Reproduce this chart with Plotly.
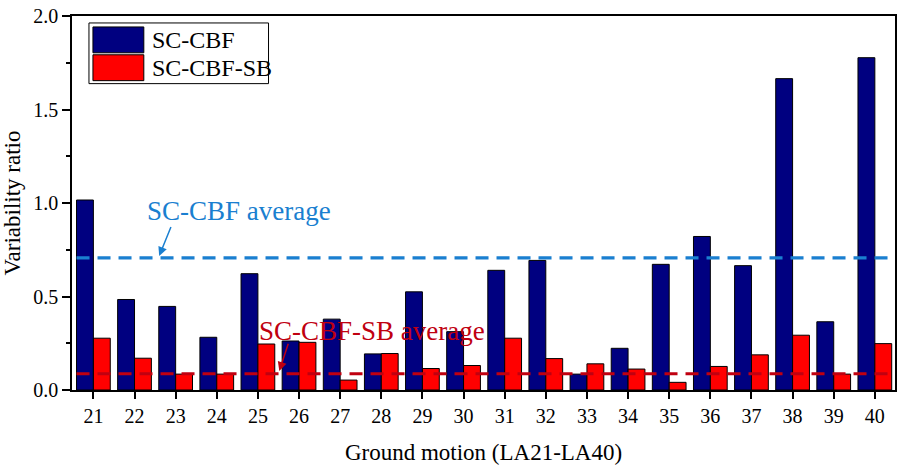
import plotly.graph_objects as go

# Ground motions LA21-LA40
motions = list(range(21, 41))
tick_labels = [str(m) for m in motions]

# Variability ratio per ground motion
sc_cbf = [1.016, 0.484, 0.447, 0.282, 0.622, 0.262, 0.379, 0.193, 0.525, 0.312,
          0.640, 0.693, 0.085, 0.223, 0.672, 0.821, 0.665, 1.665, 0.365, 1.777]
sc_cbf_sb = [0.277, 0.170, 0.085, 0.085, 0.246, 0.255, 0.053, 0.195, 0.115, 0.131,
             0.277, 0.168, 0.140, 0.112, 0.041, 0.126, 0.188, 0.293, 0.085, 0.248]

# Reported averages
sc_cbf_avg = 0.707
sc_cbf_sb_avg = 0.087

FONT = "Liberation Serif"
NAVY = "#000080"
RED = "#FF0000"
AVG_BLUE = "#1A7FD0"
AVG_RED = "#C00010"
BARGAP = 0.18
half_group = (1 - BARGAP) / 2

fig = go.Figure()
fig.add_trace(go.Bar(x=motions, y=sc_cbf, name="SC-CBF", marker_color=NAVY,
                     marker_line=dict(color="black", width=1), showlegend=False))
fig.add_trace(go.Bar(x=motions, y=sc_cbf_sb, name="SC-CBF-SB", marker_color=RED,
                     marker_line=dict(color="black", width=1), showlegend=False))

# Average lines spanning the bar groups
x_start = motions[0] - half_group
x_end = motions[-1] + half_group
for val, col in [(sc_cbf_avg, AVG_BLUE), (sc_cbf_sb_avg, AVG_RED)]:
    fig.add_shape(type="line", xref="x", yref="y", x0=x_start, x1=x_end, y0=val, y1=val,
                  line=dict(color=col, width=3.2, dash="13px,8px"), layer="above")

# Average labels with arrows
fig.add_annotation(x=24.53, y=0.957, xref="x", yref="y", text="SC-CBF average",
                   showarrow=False, font=dict(family=FONT, size=27, color=AVG_BLUE))
fig.add_annotation(x=22.60, y=sc_cbf_avg + 0.01, ax=22.90, ay=0.88, xref="x", yref="y",
                   axref="x", ayref="y", text="", showarrow=True, arrowhead=2,
                   arrowsize=1.2, arrowwidth=1.5, arrowcolor=AVG_BLUE)
fig.add_annotation(x=27.77, y=0.314, xref="x", yref="y", text="SC-CBF-SB average",
                   showarrow=False, font=dict(family=FONT, size=27, color=AVG_RED))
fig.add_annotation(x=25.52, y=sc_cbf_sb_avg + 0.015, ax=25.75, ay=0.255, xref="x", yref="y",
                   axref="x", ayref="y", text="", showarrow=True, arrowhead=2,
                   arrowsize=1.2, arrowwidth=1.5, arrowcolor=AVG_RED)

# Legend box drawn in paper coordinates
W, H, L, T = 825.0, 376.0, 72.0, 16.0
def px(xp):
    return (xp - L) / W
def py(yp):
    return (T + H - yp) / H

fig.add_shape(type="rect", xref="paper", yref="paper", x0=px(89), x1=px(269), y0=py(84), y1=py(23),
              line=dict(color="black", width=1), fillcolor="white", layer="above")
for (y0, y1, col, label) in [(27, 53, NAVY, "SC-CBF"), (55, 81, RED, "SC-CBF-SB")]:
    fig.add_shape(type="rect", xref="paper", yref="paper", x0=px(93), x1=px(144), y0=py(y1), y1=py(y0),
                  line=dict(color="black", width=1), fillcolor=col, layer="above")
    fig.add_annotation(x=px(150), y=py((y0 + y1) / 2), xref="paper", yref="paper", text=label,
                       showarrow=False, xanchor="left", yanchor="middle",
                       font=dict(family=FONT, size=24, color="black"))

fig.update_layout(
    width=901, height=465,
    margin=dict(l=72, r=4, t=16, b=73),
    paper_bgcolor="white", plot_bgcolor="white",
    barmode="group", bargap=BARGAP, bargroupgap=0,
    font=dict(family=FONT, size=20, color="black"),
)
fig.update_xaxes(
    range=[20.48, 40.49], tickvals=motions, ticktext=tick_labels,
    ticks="outside", ticklen=7, tickwidth=1.5, tickcolor="black",
    showline=True, linecolor="black", linewidth=1.5, mirror=True,
    showgrid=False, zeroline=False,
    tickfont=dict(family=FONT, size=20),
    title=dict(text="Ground motion (LA21-LA40)", font=dict(family=FONT, size=23), standoff=18),
)
fig.update_yaxes(
    range=[0, 2], dtick=0.5, tickformat=".1f",
    ticks="outside", ticklen=8, tickwidth=1.5, tickcolor="black",
    minor=dict(dtick=0.25, ticks="outside", ticklen=4, tickwidth=1.5, tickcolor="black"),
    showline=True, linecolor="black", linewidth=1.5, mirror=True,
    showgrid=False, zeroline=False,
    tickfont=dict(family=FONT, size=20),
    title=dict(text="Variability ratio", font=dict(family=FONT, size=23), standoff=6),
)

fig.write_html("out.html")
